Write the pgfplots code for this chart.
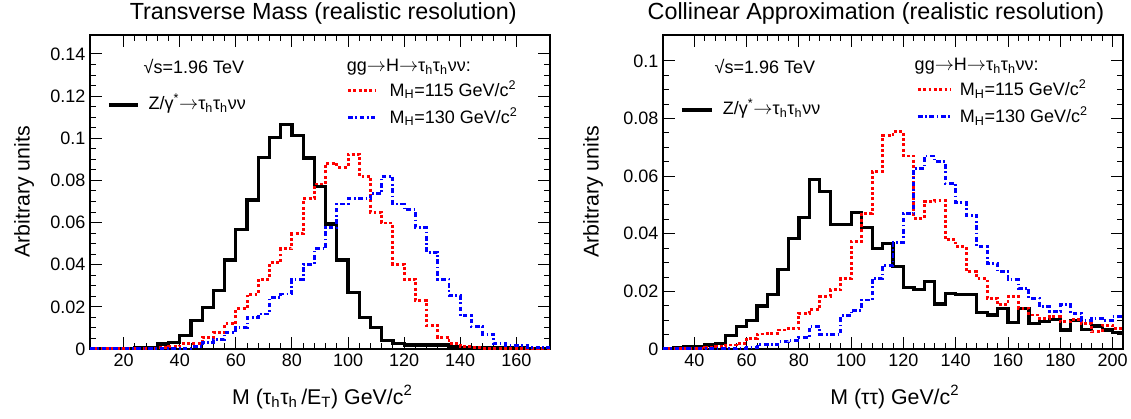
\documentclass[border=0pt]{standalone}
\usepackage{fontspec}
\setmainfont{Liberation Sans}
\usepackage{pgfplots}
\pgfplotsset{compat=1.18}

\newcommand{\tauh}{τ\textsubscript{h}}
\newcommand{\ra}{\ensuremath{\rightarrow}}
\newcommand{\legfont}{\fontsize{13.5}{16}\selectfont}

\pgfplotsset{
  hist/.style={
    scale only axis, width=345pt, height=235.5pt,
    ymin=0,
    tick align=inside,
    major tick length=9pt, minor tick length=4.5pt,
    axis line style={line width=1pt},
    every tick/.style={black, line width=0.7pt},
    ticklabel style={font=\fontsize{13.5}{16}\selectfont},
    /pgf/number format/assume math mode=true,
    yticklabel style={/pgf/number format/fixed, /pgf/number format/precision=2},
    scaled y ticks=false,
    minor x tick num=4, minor y tick num=3,
    label style={font=\fontsize{16}{19}\selectfont},
    title style={font=\fontsize{17.5}{21}\selectfont, anchor=base, yshift=5.5pt},
  },
  zh/.style={black, line width=2.4pt, const plot},
  h115/.style={red, line width=2.2pt, const plot, dash pattern=on 2.2pt off 1.8pt},
  h130/.style={blue, line width=2.2pt, const plot, dash pattern=on 3.5pt off 2pt on 1.2pt off 2pt},
}

\begin{document}
\begin{tikzpicture}

% ---------- transverse mass ----------
\begin{axis}[hist,
  at={(0pt,0pt)}, anchor=south west,
  xmin=8, xmax=172, ymax=0.149,
  xtick={20,40,...,160},
  ytick={0,0.02,...,0.14},
  title={Transverse Mass (realistic resolution)},
  title style={at={(0.507,1)}},
  xlabel={M (\tauh\tauh\,/E\textsubscript{T}) GeV/c\textsuperscript{2}},
  xlabel style={at={(axis description cs:0.505,-0.153)}, anchor=center},
  ylabel={Arbitrary units},
  ylabel style={at={(axis description cs:-0.143,0.5)}, anchor=center},
]
\addplot[zh] coordinates {
(8,0.0003) (12,0.0003) (16,0.0003) (20,0.0003) (24,0.0005) (28,0.0008)
(32,0.0024) (36,0.003) (40,0.0063) (44,0.0134) (48,0.0198) (52,0.0277)
(56,0.0422) (60,0.0566) (64,0.0707) (68,0.091) (72,0.1005) (76,0.1065)
(80,0.1013) (84,0.0906) (88,0.0772) (92,0.0593) (96,0.0422) (100,0.0269)
(104,0.015) (108,0.0103) (112,0.004) (116,0.0028) (120,0.0019) (124,0.0019)
(128,0.0019) (132,0.0019) (136,0.0013) (140,0.0008) (144,0.0008) (148,0.0008)
(152,0.0008) (156,0.0005) (160,0.0005) (164,0.0003) (168,0.0003) (172,0.0003)
};
\addplot[h115] coordinates {
(8,0.0003) (12,0.0003) (16,0.0003) (20,0.0003) (24,0.0003) (28,0.0003)
(32,0.0005) (36,0.001) (40,0.0024) (44,0.0024) (48,0.0055) (52,0.0079)
(56,0.0119) (60,0.019) (64,0.026) (68,0.0332) (72,0.0411) (76,0.0475)
(80,0.0546) (84,0.0712) (88,0.0783) (92,0.0881) (96,0.0862) (100,0.0925)
(104,0.082) (108,0.0649) (112,0.0598) (116,0.0403) (120,0.0332) (124,0.0229)
(128,0.0111) (132,0.0055) (136,0.0024) (140,0.0011) (144,0.0008) (148,0.0003)
(152,0.0003) (156,0.0003) (160,0.0003) (164,0.0003) (168,0.0003) (172,0.0003)
};
\addplot[h130] coordinates {
(8,0.0003) (12,0.0003) (16,0.0003) (20,0.0003) (24,0.0003) (28,0.0003)
(32,0.0003) (36,0.0003) (40,0.0003) (44,0.001) (48,0.0032) (52,0.0045)
(56,0.0079) (60,0.0103) (64,0.015) (68,0.0166) (72,0.0245) (76,0.0261)
(80,0.0332) (84,0.0403) (88,0.0475) (92,0.0577) (96,0.0688) (100,0.0712)
(104,0.0712) (108,0.0736) (112,0.082) (116,0.0688) (120,0.0661) (124,0.0577)
(128,0.0459) (132,0.0332) (136,0.0253) (140,0.0158) (144,0.0106) (148,0.0071)
(152,0.0024) (156,0.0016) (160,0.0016) (164,0.0008) (168,0.0005) (172,0.0005)
};
\node[anchor=west, font=\legfont] at (rel axis cs:0.1065,0.901) {√s=1.96 TeV};
\draw[black, line width=2.4pt] (rel axis cs:0.041,0.777) -- (rel axis cs:0.104,0.777);
\node[anchor=west, font=\legfont] at (rel axis cs:0.117,0.782) {Z/γ\textsuperscript{*}\ra\tauh\tauh νν};
\node[anchor=west, font=\legfont] at (rel axis cs:0.548,0.898) {gg\ra H\ra\tauh\tauh νν:};
\draw[red, line width=2.2pt, dash pattern=on 2.2pt off 1.8pt] (rel axis cs:0.561,0.822) -- (rel axis cs:0.620,0.822);
\node[anchor=west, font=\legfont] at (rel axis cs:0.641,0.826) {M\textsubscript{H}=115 GeV/c\textsuperscript{2}};
\draw[blue, line width=2.2pt, dash pattern=on 3.5pt off 2pt on 1.2pt off 2pt] (rel axis cs:0.561,0.736) -- (rel axis cs:0.620,0.736);
\node[anchor=west, font=\legfont] at (rel axis cs:0.641,0.740) {M\textsubscript{H}=130 GeV/c\textsuperscript{2}};
\end{axis}

% ---------- collinear approximation ----------
\begin{axis}[hist,
  at={(429.75pt,0pt)}, anchor=south west,
  xmin=28, xmax=204, ymax=0.109,
  xtick={40,60,...,200},
  ytick={0,0.02,...,0.1},
  title={Collinear Approximation (realistic resolution)},
  title style={at={(0.463,1)}},
  xlabel={M (ττ) GeV/c\textsuperscript{2}},
  xlabel style={at={(axis description cs:0.504,-0.153)}, anchor=center},
  ylabel={Arbitrary units},
  ylabel style={at={(axis description cs:-0.152,0.5)}, anchor=center},
]
\addplot[zh] coordinates {
(28,0.0003) (32,0.0006) (36,0.0008) (40,0.001) (44,0.0014) (48,0.002)
(52,0.0046) (56,0.0078) (60,0.0098) (64,0.0149) (68,0.019) (72,0.0277)
(76,0.0384) (80,0.0456) (84,0.0588) (88,0.0546) (92,0.0432) (96,0.0432)
(100,0.0475) (104,0.0421) (108,0.035) (112,0.0367) (116,0.0286) (120,0.0214)
(124,0.0207) (128,0.0234) (132,0.0156) (136,0.0193) (140,0.019) (144,0.019)
(148,0.0126) (152,0.0118) (156,0.0141) (160,0.0091) (164,0.0141) (168,0.0089)
(172,0.0095) (176,0.0103) (180,0.0066) (184,0.01) (188,0.0068) (192,0.008)
(196,0.0066) (200,0.0058) (204,0.0058)
};
\addplot[h115] coordinates {
(28,0.0002) (32,0.0002) (36,0.0003) (40,0.0003) (44,0.0005) (48,0.0008)
(52,0.0014) (56,0.002) (60,0.0037) (64,0.0052) (68,0.0055) (72,0.0066)
(76,0.0072) (80,0.0124) (84,0.0138) (88,0.0182) (92,0.0205) (96,0.0245)
(100,0.0373) (104,0.0471) (108,0.0616) (112,0.074) (116,0.0755) (120,0.067)
(124,0.0454) (128,0.0512) (132,0.0517) (136,0.038) (140,0.0355) (144,0.0269)
(148,0.0245) (152,0.0176) (156,0.0153) (160,0.0182) (164,0.0141) (168,0.0118)
(172,0.0106) (176,0.0112) (180,0.0095) (184,0.0103) (188,0.0089) (192,0.006)
(196,0.0083) (200,0.0072) (204,0.0072)
};
\addplot[h130] coordinates {
(28,0.0002) (32,0.0002) (36,0.0002) (40,0.0002) (44,0.0002) (48,0.0002)
(52,0.0002) (56,0.0003) (60,0.0005) (64,0.0015) (68,0.0015) (72,0.0025)
(76,0.003) (80,0.004) (84,0.0078) (88,0.005) (92,0.005) (96,0.0115)
(100,0.0135) (104,0.017) (108,0.0245) (112,0.029) (116,0.037) (120,0.047)
(124,0.0627) (128,0.067) (132,0.065) (136,0.0575) (140,0.0508) (144,0.0465)
(148,0.0355) (152,0.0297) (156,0.0269) (160,0.024) (164,0.021) (168,0.0176)
(172,0.0147) (176,0.013) (180,0.0153) (184,0.0124) (188,0.01) (192,0.0106)
(196,0.01) (200,0.0112) (204,0.0112)
};
\node[anchor=west, font=\legfont] at (rel axis cs:0.102,0.901) {√s=1.96 TeV};
\draw[black, line width=2.4pt] (rel axis cs:0.041,0.761) -- (rel axis cs:0.107,0.761);
\node[anchor=west, font=\legfont] at (rel axis cs:0.12,0.766) {Z/γ\textsuperscript{*}\ra\tauh\tauh νν};
\node[anchor=west, font=\legfont] at (rel axis cs:0.537,0.901) {gg\ra H\ra\tauh\tauh νν:};
\draw[red, line width=2.2pt, dash pattern=on 2.2pt off 1.8pt] (rel axis cs:0.554,0.825) -- (rel axis cs:0.624,0.825);
\node[anchor=west, font=\legfont] at (rel axis cs:0.635,0.829) {M\textsubscript{H}=115 GeV/c\textsuperscript{2}};
\draw[blue, line width=2.2pt, dash pattern=on 3.5pt off 2pt on 1.2pt off 2pt] (rel axis cs:0.554,0.739) -- (rel axis cs:0.624,0.739);
\node[anchor=west, font=\legfont] at (rel axis cs:0.635,0.743) {M\textsubscript{H}=130 GeV/c\textsuperscript{2}};
\end{axis}

\pgfresetboundingbox
\useasboundingbox (-67.5pt,-51.75pt) rectangle (780.75pt,261.75pt);
\end{tikzpicture}
\end{document}
